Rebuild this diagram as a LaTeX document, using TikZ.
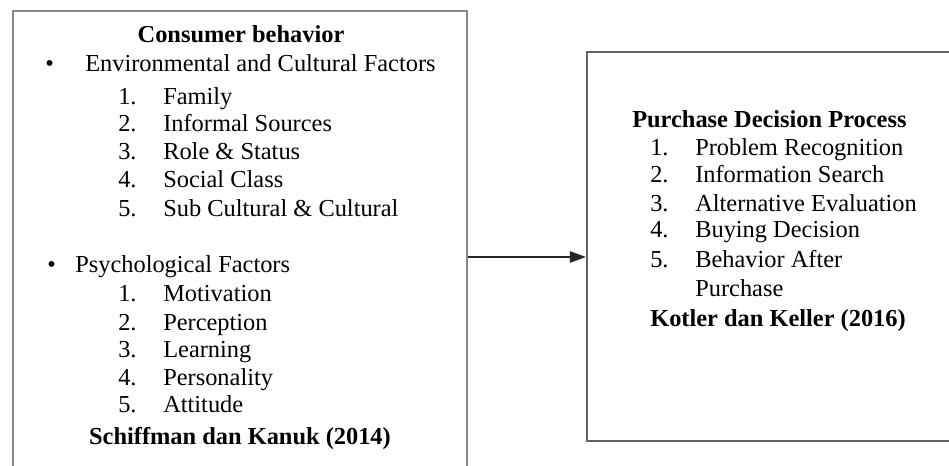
\documentclass[tikz,border=0pt]{standalone}
\usepackage{fontspec}
\setmainfont{Liberation Serif}
\usetikzlibrary{arrows.meta}
\begin{document}
\begin{tikzpicture}[x=0.75pt,y=-0.75pt,
  txt/.style={anchor=base west,inner sep=0pt,font=\fontsize{18.3}{22}\selectfont},
  ctr/.style={anchor=base,inner sep=0pt,font=\fontsize{18.3}{22}\selectfont\bfseries},
  lbox/.style={draw=black!47,line width=1.6pt,inner sep=0pt},
  rbox/.style={draw=black!62,line width=1.6pt,inner sep=0pt},
  conn/.style={draw=black!85,line width=1.1pt,-{Triangle[length=12pt,width=8.5pt]}}]
\useasboundingbox (0,0) rectangle (949,465);
\clip (0,0) rectangle (949,465);
\fill[white] (0,0) rectangle (949,465);
% boxes
\node[lbox,minimum width=340.5pt,minimum height=348pt] (L) at (240,243) {};
\node[rbox,minimum width=279.75pt,minimum height=291.75pt] (R) at (773.5,246.5) {};
% left texts
\node[ctr] (t1) at (241,42) {Consumer behavior};
\node[txt] (b1) at (45,71) {•};
\node[txt] (h1) at (85,71) {Environmental and Cultural Factors};
\node[txt] (n11) at (118,104) {1.};
\node[txt] (i11) at (163,104) {Family};
\node[txt] (n12) at (118,131) {2.};
\node[txt] (i12) at (163,131) {Informal Sources};
\node[txt] (n13) at (118,159) {3.};
\node[txt] (i13) at (163,159) {Role \& Status};
\node[txt] (n14) at (118,187) {4.};
\node[txt] (i14) at (163,187) {Social Class};
\node[txt] (n15) at (118,216) {5.};
\node[txt] (i15) at (163,216) {Sub Cultural \& Cultural};
\node[txt] (b2) at (47,272) {•};
\node[txt] (h2) at (75,272) {Psychological Factors};
\node[txt] (n21) at (118,301) {1.};
\node[txt] (i21) at (163,301) {Motivation};
\node[txt] (n22) at (118,330) {2.};
\node[txt] (i22) at (163,330) {Perception};
\node[txt] (n23) at (118,357) {3.};
\node[txt] (i23) at (163,357) {Learning};
\node[txt] (n24) at (118,385) {4.};
\node[txt] (i24) at (163,385) {Personality};
\node[txt] (n25) at (118,412) {5.};
\node[txt] (i25) at (163,412) {Attitude};
\node[ctr] (s1) at (240,444) {Schiffman dan Kanuk (2014)};
% right texts
\node[txt,font=\fontsize{18.3}{22}\selectfont\bfseries] (t2) at (632,127) {Purchase Decision Process};
\node[txt] (m1) at (650,155) {1.};
\node[txt] (j1) at (695,155) {Problem Recognition};
\node[txt] (m2) at (650,182) {2.};
\node[txt] (j2) at (695,182) {Information Search};
\node[txt] (m3) at (650,211) {3.};
\node[txt] (j3) at (695,211) {Alternative Evaluation};
\node[txt] (m4) at (650,237) {4.};
\node[txt] (j4) at (695,237) {Buying Decision};
\node[txt] (m5) at (650,267) {5.};
\node[txt] (j5) at (695,267) {Behavior After};
\node[txt] (j6) at (695,296) {Purchase};
\node[txt,font=\fontsize{18.3}{22}\selectfont\bfseries] (s2) at (650,326) {Kotler dan Keller (2016)};
% connector
\coordinate (ay) at (0,257);
\draw[conn] (L.east |- ay) -- (R.west |- ay);
\end{tikzpicture}
\end{document}
